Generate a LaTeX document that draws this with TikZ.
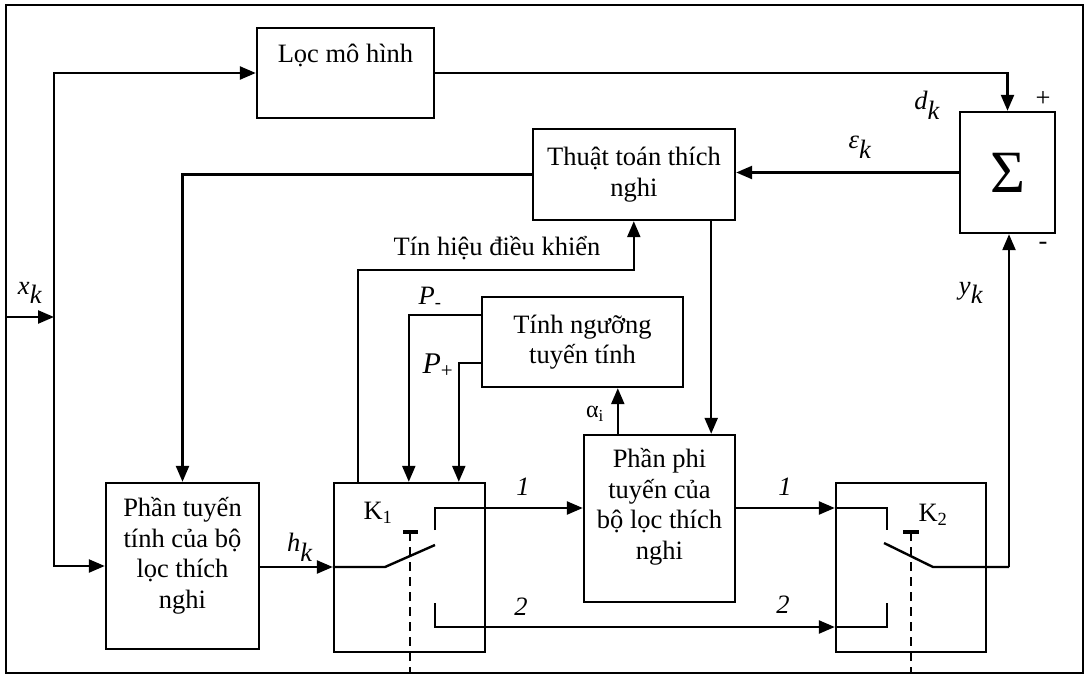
\documentclass[tikz,border=0pt]{standalone}
\usepackage{fontspec}
\setmainfont{Liberation Serif}
\usetikzlibrary{arrows.meta,calc}
\newcommand\dfont{\fontsize{26.5}{30.5}\selectfont}
\newcommand\ik[2]{$\textit{#1}_{\textit{#2}}$}
\begin{document}
\begin{tikzpicture}[x=1pt,y=-1pt,
  box/.style={draw, line width=2.4pt, inner sep=0pt},
  txt/.style={inner sep=0pt, align=center, font=\dfont},
  lbl/.style={inner sep=0pt, font=\dfont},
  wire/.style={line width=2.4pt},
  arr/.style={wire, -{Triangle[length=16pt,width=13pt]}},
  dash line/.style={line width=2.4pt, dash pattern=on 9pt off 6pt},
  tbar/.style={line width=3.5pt}]
\useasboundingbox (0,0) rectangle (1090,677);
% outer frame
\draw[line width=2.4pt] (6,5) rectangle (1083,673);

% blocks
\node[box, minimum width=177pt, minimum height=90pt] (loc) at (345.5,73) {};
\node[txt] (loc-t) at (345.5,55) {Lọc mô hình};
\node[box, txt, minimum width=202pt, minimum height=91pt] (thuat) at (634,174.5) {Thuật toán thích\\nghi};
\node[box, minimum width=95pt, minimum height=121pt] (sigma) at (1007.5,172.5) {};
\node[inner sep=0pt, font=\fontsize{60}{62}\selectfont] (sigma-t) at (1007.5,172.5) {Σ};
\node[box, txt, minimum width=201pt, minimum height=90pt] (tinh) at (582.5,342) {Tính ngưỡng\\tuyến tính};
\node[box, minimum width=153pt, minimum height=166pt] (tuyen) at (182.5,566) {};
\node[txt] (tuyen-t) at (182.5,556) {Phần tuyến\\tính của bộ\\lọc thích\\nghi};
\node[box, minimum width=151pt, minimum height=167pt] (phi) at (659.5,518.5) {};
\node[txt] (phi-t) at (659.5,507) {Phần phi\\tuyến của\\bộ lọc thích\\nghi};
\node[box, minimum width=151pt, minimum height=169pt] (k1) at (409.5,567.5) {};
\node[box, minimum width=150pt, minimum height=169pt] (k2) at (911,567.5) {};

% input x_k and its branches
\coordinate (in) at (6,317);
\coordinate (j) at (54,317);
\draw[arr] (in) -- (j);
\draw[arr] (j) |- (loc.west);
\draw[arr] (j) |- (tuyen.west);
\node[lbl] (xk) at (30,293) {\ik{x}{k}};

% model filter to summing junction
\draw[arr] (loc.east) -| (sigma.north);
\node[lbl] (dk) at (927,105) {\ik{d}{k}};
\node[lbl] (plus) at (1043,99) {+};
\node[lbl] (minus) at (1043,246) {-};

% error signal to adaptation algorithm
\draw[arr] (sigma.west) -- (sigma.west -| thuat.east);
\node[lbl] (ek) at (860,147) {\ik{ε}{k}};

% algorithm to linear and nonlinear parts
\draw[arr] (thuat.west) -| (tuyen.north);
\draw[arr] ([xshift=-25pt]thuat.south east) -- ([xshift=-25pt]phi.north east);

% control signal from K1 to algorithm
\coordinate (cs0) at ([xshift=25pt]k1.north west);
\coordinate (cs1) at ([xshift=102pt]thuat.south west);
\draw[arr] (cs0) -- (cs0 |- 0,270) -| (cs1);
\node[lbl] (cs-t) at (497,248) {Tín hiệu điều khiển};

% thresholds P- and P+
\coordinate (pm) at ([yshift=27pt]tinh.west);
\coordinate (pp) at ([yshift=-21pt]tinh.west);
\coordinate (k1a) at ([xshift=76pt]k1.north west);
\coordinate (k1b) at ([xshift=126pt]k1.north west);
\draw[arr] (pm) -| (k1a);
\draw[arr] (pp) -| (k1b);
\node[lbl] (pm-t) at (430,298) {\textit{P}\textsubscript{-}};
\node[lbl] (pp-t) at (438,366) {\fontsize{30}{32}\selectfont\textit{P}\textsubscript{+}};

% alpha_i
\coordinate (aup) at ([xshift=35pt]phi.north west);
\draw[arr] (aup) -- (aup |- tinh.south);
\node[lbl] (al) at (595,414) {\fontsize{24}{26}\selectfont α\textsubscript{i}};

% h_k into K1 and switch K1
\coordinate (hk) at (tuyen.east |- 0,567);
\draw[arr] (hk) -- (hk -| k1.west);
\node[lbl] (hk-t) at (300,547) {\ik{h}{k}};
\draw[wire] (hk -| k1.west) -- (385,567) -- (435,545);
\coordinate (c1) at (435,508);
\coordinate (c2) at (435,627);
\draw[arr] (435,530) -- (c1) -- (c1 -| phi.west);
\draw[arr] (435,603) -- (c2) -- (c2 -| k2.west);
\draw[tbar] (403,532) -- (418,532);
\draw[dash line] (410,532) -- (410,673);
\node[lbl] (k1-t) at (378,513) {K\textsubscript{1}};
\node[lbl] (n1a) at (523,487) {\textit{1}};
\node[lbl] (n2a) at (521,607) {\textit{2}};

% nonlinear part to K2 and switch K2
\coordinate (o1) at (phi.east |- 0,508);
\draw[arr] (o1) -- (o1 -| k2.west);
\draw[wire] (o1 -| k2.west) -- (887,508) -- (887,530);
\draw[wire] (c2 -| k2.west) -- (887,627) -- (887,603);
\coordinate (yo) at (1009,567);
\draw[wire] (884,543) -- (933,567) -- (yo);
\draw[arr] (yo) -- (yo |- sigma.south);
\draw[tbar] (903,532) -- (919,532);
\draw[dash line] (911,532) -- (911,673);
\node[lbl] (k2-t) at (933,515) {K\textsubscript{2}};
\node[lbl] (n1b) at (785,487) {\textit{1}};
\node[lbl] (n2b) at (783,605) {\textit{2}};
\node[lbl] (yk) at (971,293) {\ik{y}{k}};
\end{tikzpicture}
\end{document}
